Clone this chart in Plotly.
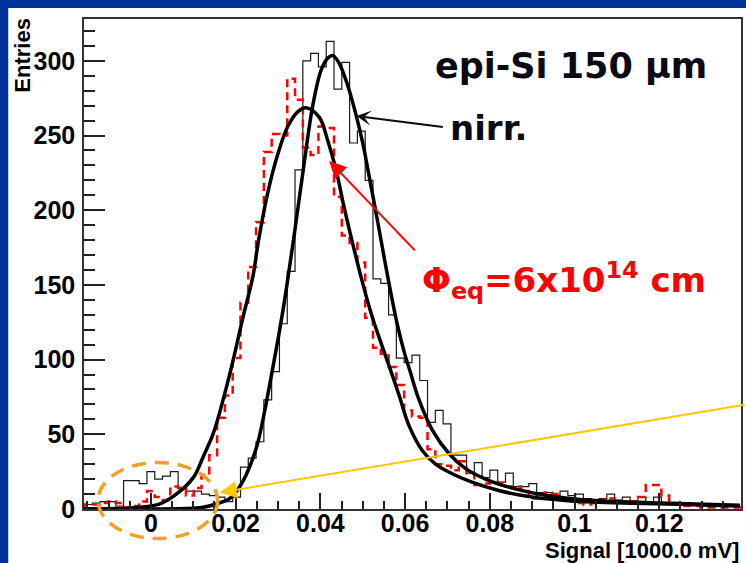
import numpy as np
import plotly.graph_objects as go

# ---- signal histograms (common binning) ----
bin_start = -0.0175
bin_width = 0.00184

# non-irradiated epi-Si 150 um
counts_nirr = [
    2, 3, 4, 5, 5, 2, 19, 19, 17, 25,
    20, 22, 25, 14, 12, 12, 10, 9, 8, 5,
    8, 28, 34, 45, 73, 92, 124, 159, 227, 300,
    305, 296, 313, 281, 299, 245, 253, 220, 154, 151,
    130, 101, 98, 103, 86, 58, 66, 57, 36, 36,
    24, 31, 21, 26, 18, 24, 15, 15, 17, 11,
    11, 9, 12, 9, 10, 7, 6, 7, 10, 6,
    8, 5, 8, 5, 8, 4, 4, 3, 4, 3,
    2, 3, 2, 2, 2, 1,
]

# irradiated, Phi_eq = 6e14
counts_irr = [
    2, 3, 3, 4, 5, 4, 1, 2, 5, 12,
    8, 6, 15, 14, 9, 14, 23, 36, 61, 76,
    101, 138, 162, 192, 239, 251, 250, 288, 274, 242,
    237, 256, 255, 209, 183, 178, 165, 128, 108, 104,
    95, 83, 66, 62, 61, 40, 30, 29, 26, 32,
    24, 16, 17, 18, 17, 15, 15, 12, 7, 10,
    11, 10, 6, 7, 4, 3, 4, 6, 7, 5,
    4, 5, 8, 16, 16, 9, 4, 3, 2, 2,
    1, 1, 1, 1, 1, 1,
]

# ---- fitted curves, sampled ----
fit_nirr_x = [-0.016, 0.0, 0.008, 0.012, 0.015, 0.0186, 0.0205, 0.0225, 0.025,
              0.0266, 0.0288, 0.0304, 0.0319, 0.0339, 0.0362, 0.0382, 0.0402,
              0.0418, 0.0430, 0.0445, 0.0464, 0.0484, 0.0500, 0.0515, 0.0531,
              0.0547, 0.0562, 0.0582, 0.0598, 0.0612, 0.0633, 0.0664, 0.0704,
              0.0743, 0.079, 0.0845, 0.0915, 0.0978, 0.1056, 0.12, 0.139]
fit_nirr_y = [0, 0, 0.3, 1, 3, 7, 13, 23, 42,
              62, 95, 120, 146, 185, 232, 270, 294,
              302, 303.5, 298, 284, 264, 245, 223, 199,
              174, 151, 123, 105, 92, 73, 53, 37,
              27, 20, 14.6, 10, 7.3, 5.5, 4, 2.5]

fit_irr_x = [-0.016, -0.0026, 0.0021, 0.006, 0.010, 0.0123, 0.0147, 0.017, 0.0194,
             0.0217, 0.0241, 0.0253, 0.0276, 0.030, 0.0323, 0.0347, 0.0368,
             0.0398, 0.0417, 0.0437, 0.0456, 0.0476, 0.050, 0.0523, 0.0547,
             0.0562, 0.0586, 0.0609, 0.0641, 0.0672, 0.0711, 0.0758, 0.0821,
             0.09, 0.0978, 0.1056, 0.12, 0.139]
fit_irr_y = [0, 1.2, 3.5, 10, 21, 34.7, 50.4, 72.7, 99.5,
             128, 156, 178, 212, 238, 256, 266, 268.5,
             262, 247, 227, 202, 178, 151, 128, 108,
             96, 76, 56, 39, 30, 23.6, 18, 12.4,
             8, 5.7, 4.6, 3.5, 2]

# ---- axes ----
x_range = [-0.0158, 0.1393]
y_range = [0, 328]
x_ticks = [0, 0.02, 0.04, 0.06, 0.08, 0.1, 0.12]
x_tick_labels = ["0", "0.02", "0.04", "0.06", "0.08", "0.1", "0.12"]
y_ticks = [0, 50, 100, 150, 200, 250, 300]

centers_nirr = bin_start + bin_width * (np.arange(len(counts_nirr)) + 0.5)
centers_irr = bin_start + bin_width * (np.arange(len(counts_irr)) + 0.5)

W, H = 746, 563
ML, MR, MT, MB = 84, 3, 19, 54
PW, PH = W - ML - MR, H - MT - MB


def px_to_paper(px, py):
    return (px - ML) / PW, (H - MB - py) / PH


def data_to_paper(x, y):
    return ((x - x_range[0]) / (x_range[1] - x_range[0]),
            (y - y_range[0]) / (y_range[1] - y_range[0]))


fig = go.Figure()

fig.add_trace(go.Scatter(
    x=centers_nirr, y=counts_nirr, mode="lines", line_shape="hvh",
    line=dict(color="#1a1a1a", width=1.2), showlegend=False))
fig.add_trace(go.Scatter(
    x=centers_irr, y=counts_irr, mode="lines", line_shape="hvh",
    line=dict(color="#ff0000", width=2.5, dash="8px,5px"), showlegend=False))
fig.add_trace(go.Scatter(
    x=fit_irr_x, y=fit_irr_y, mode="lines", line_shape="spline",
    line=dict(color="black", width=3.5), showlegend=False))
fig.add_trace(go.Scatter(
    x=fit_nirr_x, y=fit_nirr_y, mode="lines", line_shape="spline",
    line=dict(color="black", width=3.5), showlegend=False))

tick_font = dict(family="Liberation Sans, Arial", size=25, color="black", weight="bold")

fig.update_xaxes(
    range=x_range, tickvals=x_ticks, ticktext=x_tick_labels,
    ticks="inside", ticklen=16, tickwidth=1.5, tickcolor="#222",
    minor=dict(dtick=0.005, tick0=0, ticks="inside", ticklen=8, tickwidth=1.5, tickcolor="#222"),
    showline=True, linecolor="#333", linewidth=1.5, mirror=True,
    showgrid=False, zeroline=False, tickfont=tick_font, ticklabelstandoff=-9)
fig.update_yaxes(
    range=y_range, tickvals=y_ticks,
    ticks="inside", ticklen=21, tickwidth=1.5, tickcolor="#222",
    minor=dict(dtick=10, tick0=0, ticks="inside", ticklen=11, tickwidth=1.5, tickcolor="#222"),
    showline=True, linecolor="#333", linewidth=1.5, mirror=True,
    showgrid=False, zeroline=False, tickfont=tick_font, ticklabelstandoff=2)

# white slide area on the blue background
wx0, wy0 = px_to_paper(8, 8)
wx1, wy1 = px_to_paper(W + 2, H + 2)
shapes = [dict(type="rect", xref="paper", yref="paper", x0=wx0, y0=wy1, x1=wx1, y1=wy0,
               fillcolor="white", line=dict(width=0), layer="below")]

# dashed ellipse around the noise region
ex0, ey0 = data_to_paper(-0.01247, -19.8)
ex1, ey1 = data_to_paper(0.01576, 31.2)
shapes.append(dict(type="circle", xref="paper", yref="paper", x0=ex0, y0=ey0, x1=ex1, y1=ey1,
                   line=dict(color="#f4a023", width=3.5, dash="14px,9px"), layer="above"))

big_font = "DejaVu Sans, Arial"
ann = []
ann.append(dict(text="Entries", xref="paper", yref="paper",
                x=px_to_paper(22, 0)[0], y=px_to_paper(0, 16)[1],
                xanchor="center", yanchor="top", textangle=-90, showarrow=False,
                font=dict(family="Liberation Sans, Arial", size=22, color="black", weight="bold")))
ann.append(dict(text="Signal [1000.0 mV]", xref="paper", yref="paper",
                x=px_to_paper(743, 0)[0], y=px_to_paper(0, 550)[1],
                xanchor="right", yanchor="middle", showarrow=False,
                font=dict(family="Liberation Sans, Arial", size=22, color="black", weight="bold")))
ann.append(dict(text="epi-Si 150 \u03bcm", xref="paper", yref="paper",
                x=px_to_paper(434, 0)[0], y=px_to_paper(0, 66)[1],
                xanchor="left", yanchor="middle", showarrow=False,
                font=dict(family=big_font, size=35, color="#0a0a14", weight="bold")))
ann.append(dict(text="nirr.", xref="paper", yref="paper",
                x=px_to_paper(449, 0)[0], y=px_to_paper(0, 128)[1],
                xanchor="left", yanchor="middle", showarrow=False,
                font=dict(family=big_font, size=34, color="#0a0a14", weight="bold")))
ann.append(dict(text="\u03a6<sub>eq</sub>=6x10<sup>14</sup> cm", xref="paper", yref="paper",
                x=px_to_paper(421, 0)[0], y=px_to_paper(0, 280)[1],
                xanchor="left", yanchor="middle", showarrow=False,
                font=dict(family=big_font, size=34, color="#ff0000", weight="bold")))

# pointer arrows
ann.append(dict(x=0.0485, y=263, xref="x", yref="y", text="", showarrow=True,
                ax=88, ay=11, arrowhead=3, arrowsize=1.25, arrowwidth=2, arrowcolor="#0a0a14"))
ann.append(dict(x=0.0421, y=233, xref="x", yref="y", text="", showarrow=True,
                ax=87, ay=91, arrowhead=2, arrowsize=1.7, arrowwidth=2, arrowcolor="#ff0000"))
ann.append(dict(x=0.01624, y=11, xref="x", yref="y", text="", showarrow=True,
                ax=530, ay=-88, arrowhead=2, arrowsize=1.7, arrowwidth=2, arrowcolor="#ffc800"))

fig.update_layout(
    width=W, height=H,
    margin=dict(l=ML, r=MR, t=MT, b=MB, pad=0),
    paper_bgcolor="#003399", plot_bgcolor="white",
    shapes=shapes, annotations=ann, showlegend=False)

fig.write_html("out.html")
